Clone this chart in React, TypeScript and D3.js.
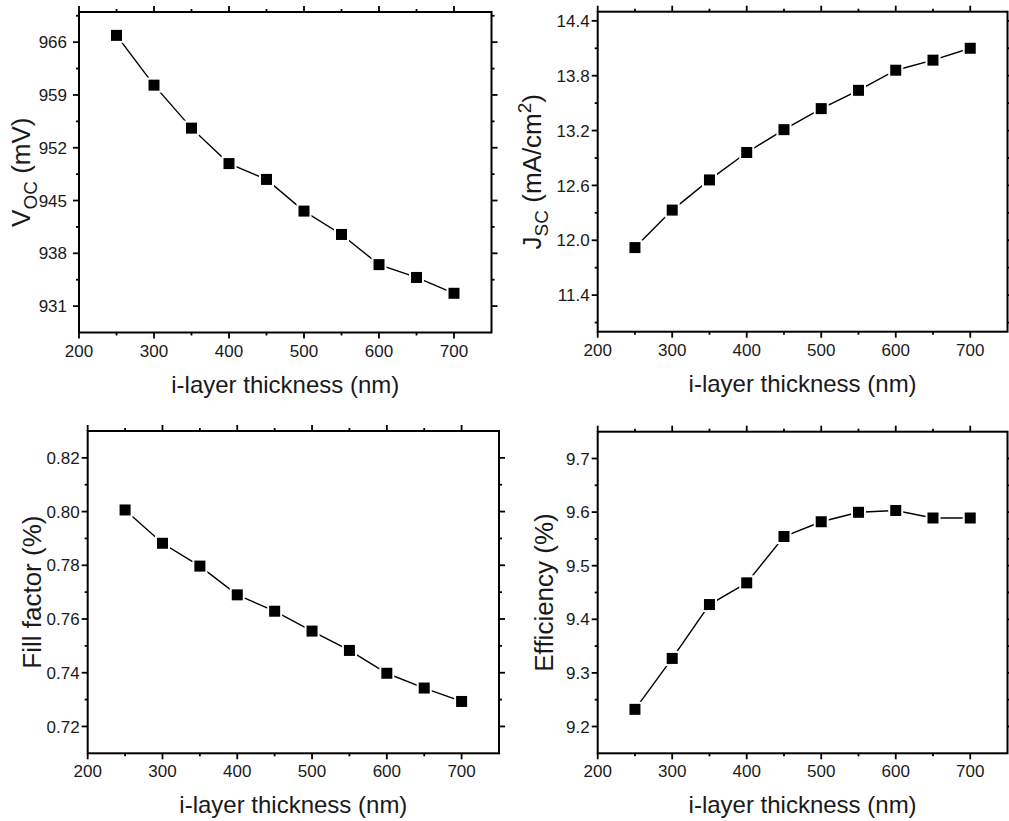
import {useEffect, useRef} from "react";
import * as d3 from "d3";

// i-layer thickness (nm)
const thickness = [250, 300, 350, 400, 450, 500, 550, 600, 650, 700];

const voc = [966.9, 960.3, 954.6, 949.9, 947.8, 943.6, 940.5, 936.5, 934.8, 932.7];
const jsc = [11.92, 12.33, 12.66, 12.96, 13.21, 13.44, 13.64, 13.86, 13.97, 14.10];
const fillFactor = [0.8006, 0.7882, 0.7797, 0.769, 0.7629, 0.7555, 0.7483, 0.7398, 0.7343, 0.7293];
const efficiency = [9.232, 9.327, 9.4275, 9.468, 9.5545, 9.582, 9.5996, 9.603, 9.589, 9.589];

const xTicks = [200, 300, 400, 500, 600, 700];
const xMinor = [250, 350, 450, 550, 650];

const vocTicks = [931, 938, 945, 952, 959, 966];
const vocMinor = [934.5, 941.5, 948.5, 955.5, 962.5, 969.5];
const jscTicks = [11.4, 12.0, 12.6, 13.2, 13.8, 14.4];
const jscMinor = [11.1, 11.7, 12.3, 12.9, 13.5, 14.1];
const ffTicks = [0.72, 0.74, 0.76, 0.78, 0.80, 0.82];
const ffMinor = [0.73, 0.75, 0.77, 0.79, 0.81];
const effTicks = [9.2, 9.3, 9.4, 9.5, 9.6, 9.7];
const effMinor = [9.25, 9.35, 9.45, 9.55, 9.65];

const FONT = "'Liberation Sans', Arial, Helvetica, sans-serif";
const INK = "#1a1a1a";

// plot frames in page pixels
const panels = [
    {values: voc, yDomain: [927.5, 970], ticks: vocTicks, minor: vocMinor, fmt: d3.format("d"),
        left: 79, right: 491.5, top: 12, bottom: 332.5, labelGap: 12, titleX: 30,
        title: [["V", 0], ["OC", 1], [" (mV)", -1]]},
    {values: jsc, yDomain: [11.0, 14.5], ticks: jscTicks, minor: jscMinor, fmt: d3.format(".1f"),
        left: 597.7, right: 1007.5, top: 11.7, bottom: 331.7, labelGap: 8, titleX: 541,
        title: [["J", 0], ["SC", 1], [" (mA/cm", -1], ["2", 2], [")", -2]]},
    {values: fillFactor, yDomain: [0.71, 0.83], ticks: ffTicks, minor: ffMinor, fmt: d3.format(".2f"),
        left: 87.7, right: 499, top: 431, bottom: 753.3, labelGap: 8, titleX: 41,
        title: [["Fill factor (%)", 0]]},
    {values: efficiency, yDomain: [9.15, 9.75], ticks: effTicks, minor: effMinor, fmt: d3.format(".1f"),
        left: 597.7, right: 1007.5, top: 431.7, bottom: 753.3, labelGap: 8, titleX: 553,
        title: [["Efficiency (%)", 0]]},
];

function App() {
    const ref = useRef<SVGSVGElement>(null);

    useEffect(() => {
        const svg = d3.select(ref.current);
        svg.selectAll("*").remove();

        panels.forEach(p => {
            const x = d3.scaleLinear().domain([200, 750]).range([p.left, p.right]);
            const y = d3.scaleLinear().domain(p.yDomain).range([p.bottom, p.top]);
            const g = svg.append("g");

            const major = 6, minorLen = 3, sw = 1.8;

            const tickLine = (x1, y1, x2, y2) => g.append("line")
                .attr("x1", x1).attr("y1", y1).attr("x2", x2).attr("y2", y2)
                .attr("stroke", "#000").attr("stroke-width", sw);

            // outward ticks on all four sides
            xTicks.forEach(v => {
                tickLine(x(v), p.bottom, x(v), p.bottom + major);
                tickLine(x(v), p.top, x(v), p.top - major);
            });
            xMinor.forEach(v => {
                tickLine(x(v), p.bottom, x(v), p.bottom + minorLen);
                tickLine(x(v), p.top, x(v), p.top - minorLen);
            });
            p.ticks.forEach(v => {
                tickLine(p.left, y(v), p.left - major, y(v));
                tickLine(p.right, y(v), p.right + major, y(v));
            });
            p.minor.forEach(v => {
                tickLine(p.left, y(v), p.left - minorLen, y(v));
                tickLine(p.right, y(v), p.right + minorLen, y(v));
            });

            // frame
            g.append("rect")
                .attr("x", p.left).attr("y", p.top)
                .attr("width", p.right - p.left).attr("height", p.bottom - p.top)
                .attr("fill", "none").attr("stroke", "#000").attr("stroke-width", 2);

            // tick labels
            g.selectAll(".xl").data(xTicks).enter().append("text")
                .attr("x", d => x(d)).attr("y", p.bottom + 24)
                .attr("text-anchor", "middle")
                .style("font-family", FONT).style("font-size", "17px").attr("fill", INK)
                .text(d => d);
            g.selectAll(".yl").data(p.ticks).enter().append("text")
                .attr("x", p.left - p.labelGap).attr("y", d => y(d))
                .attr("dy", "0.36em")
                .attr("text-anchor", "end")
                .style("font-family", FONT).style("font-size", "17px").attr("fill", INK)
                .text(d => p.fmt(d));

            // axis titles
            g.append("text")
                .attr("x", (p.left + p.right) / 2).attr("y", p.bottom + 60)
                .attr("text-anchor", "middle")
                .style("font-family", FONT).style("font-size", "24px").attr("fill", INK)
                .text("i-layer thickness (nm)");

            const yt = g.append("text")
                .attr("transform", `translate(${p.titleX},${(p.top + p.bottom) / 2}) rotate(-90)`)
                .attr("text-anchor", "middle")
                .style("font-family", FONT).style("font-size", "26px").attr("fill", INK);
            // shift codes: 1 subscript, 2 superscript, negatives return to baseline
            const shifts = {0: 0, 1: 7, "-1": -7, 2: -10, "-2": 10};
            p.title.forEach(([t, k]) => {
                yt.append("tspan")
                    .attr("dy", shifts[k])
                    .style("font-size", k === 1 || k === 2 ? "19px" : "26px")
                    .text(t);
            });

            // line + markers (with small white gap like the original)
            const line = d3.line<number>()
                .x((d, i) => x(thickness[i]))
                .y(d => y(d));
            g.append("path")
                .attr("d", line(p.values))
                .attr("fill", "none").attr("stroke", "#000").attr("stroke-width", 1.4);

            g.selectAll(".halo").data(p.values).enter().append("rect")
                .attr("x", (d, i) => x(thickness[i]) - 7.5)
                .attr("y", d => y(d) - 7.5)
                .attr("width", 15).attr("height", 15)
                .attr("fill", "#fff");
            g.selectAll(".pt").data(p.values).enter().append("rect")
                .attr("x", (d, i) => x(thickness[i]) - 5.5)
                .attr("y", d => y(d) - 5.5)
                .attr("width", 11).attr("height", 11)
                .attr("fill", "#000");
        });
    }, []);

    return <svg ref={ref} width={1009} height={821}
                style={{position: "absolute", left: 0, top: 0, background: "#fff"}}/>;
}

export default App;
